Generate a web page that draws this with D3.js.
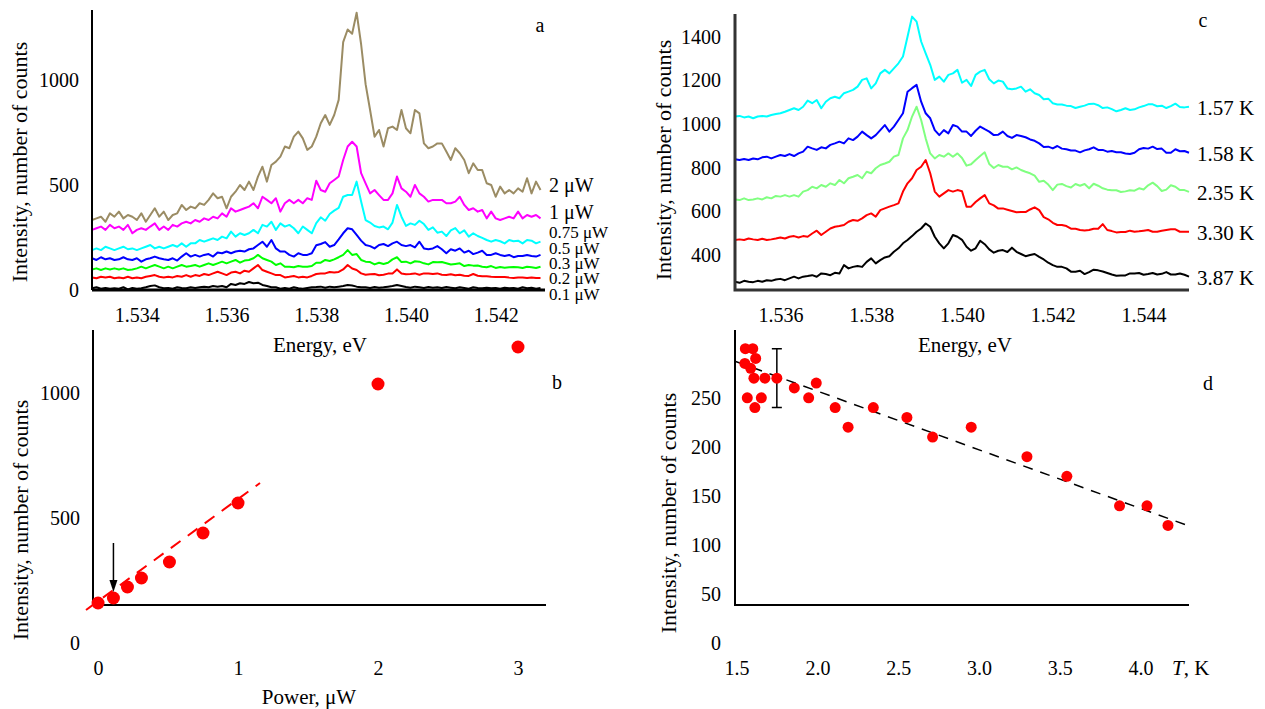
<!DOCTYPE html>
<html>
<head>
<meta charset="utf-8">
<script src="https://cdn.jsdelivr.net/npm/d3@7"></script>
<style>
  body { margin: 0; background: #fff; }
  svg { font-family: "Liberation Serif", "Times New Roman", serif; }
</style>
</head>
<body>
<div id="chart"></div>
<script>
// ---- panel a: spectra vs excitation power (energy grid 1.5330 eV, step 0.0001 eV)
const energyStartA = 1.5330, energyStepA = 0.0001;
const powerLabels = ["2 μW", "1 μW", "0.75 μW", "0.5 μW", "0.3 μW", "0.2 μW", "0.1 μW"];
const powerColors = ["#9b8c64", "#ff00ff", "#00ffff", "#0000ff", "#00ff00", "#ff0000", "#000000"];

const spec2uW = [333,341,349,325,365,349,373,341,357,349, 333,365,325,357,389,349,373,333,357,365,
  405,381,397,389,413,405,429,460,437,444, 389,444,468,500,476,516,476,540,587,516,
  595,611,635,683,675,730,754,722,667,683, 730,794,833,786,833,905,1180,1240,1220,1320,
  1170,980,857,730,762,683,770,778,762,857, 770,746,857,841,698,675,683,698,698,659,
  619,675,651,619,556,603,571,571,508,500, 444,492,460,476,460,484,468,532,460,516, 476];
const spec1uW = [286,294,302,286,310,294,302,286,310,270, 286,294,286,302,317,286,302,286,310,302,
  317,325,317,333,325,341,333,349,341,365, 349,389,373,381,389,397,413,389,444,429,
  413,437,373,413,429,413,429,413,437,429, 520,476,468,508,524,540,619,683,706,683,
  556,508,460,476,452,429,429,460,540,484, 468,444,500,460,444,421,429,429,429,413,
  413,421,444,405,381,389,373,381,341,373, 341,333,341,349,341,373,341,357,349,357, 341];
const spec075uW = [190,198,190,206,198,190,198,206,194,198, 190,198,206,214,198,206,198,206,214,206,
  222,206,222,222,238,230,238,246,238,254, 246,278,254,270,262,270,286,270,310,302,
  325,286,317,302,310,294,270,302,286,270, 318,346,330,362,378,391,444,452,452,516,
  421,333,321,305,298,302,289,321,405,349, 305,317,310,330,314,286,298,273,278,257,
  284,295,270,284,254,270,257,248,238,230, 238,232,222,238,232,235,222,238,235,222, 230];
const spec05uW = [151,143,156,146,151,143,146,156,146,143, 151,135,146,151,159,151,146,143,151,140,
  159,175,159,167,159,167,171,159,178,175, 183,175,183,187,183,194,198,214,230,206,
  238,198,183,183,167,159,175,167,167,175, 213,219,228,206,214,241,270,294,289,262,
  235,214,209,198,214,219,209,222,230,214, 209,214,203,230,198,194,198,209,194,175,
  194,187,198,178,187,171,178,187,167,167, 175,167,162,167,156,162,162,167,162,159, 167];
const spec03uW = [98,103,95,103,98,103,98,103,95,98, 103,111,103,111,119,111,103,111,103,111,
  119,111,114,119,111,119,127,119,127,135, 127,135,143,130,140,143,151,167,151,143,
  135,119,127,111,111,108,114,111,111,114, 130,130,143,138,146,156,167,190,167,171,
  143,135,133,122,130,124,130,146,156,133, 135,127,137,135,127,122,133,132,133,127,
  121,124,127,114,119,116,117,111,108,114, 105,109,106,108,109,108,105,111,108,105, 111];
const spec02uW = [60,56,63,59,63,56,60,56,63,56, 60,56,63,67,71,63,60,63,60,67,
  63,71,63,71,67,76,71,79,87,79, 71,83,87,79,92,87,103,119,95,87,
  79,71,71,60,63,67,60,63,60,67, 76,79,79,86,83,86,98,119,102,95,
  79,73,75,76,70,73,78,79,98,79, 75,76,79,73,79,79,76,79,73,71,
  75,70,73,68,67,76,68,65,65,63, 62,62,62,59,57,60,59,57,60,57, 57];
const spec01uW = [8,13,6,10,6,8,6,13,3,10, 6,8,13,19,22,13,8,10,6,13,
  10,8,13,10,13,16,13,19,16,19, 13,29,24,32,29,38,32,35,24,19,
  13,13,6,10,6,13,8,6,10,13, 14,16,11,16,13,16,19,24,21,16,
  13,13,10,14,11,13,16,19,24,19, 14,11,16,13,10,14,11,13,10,14,
  11,8,13,10,6,13,10,8,11,8, 10,6,11,8,10,6,13,8,11,6, 10];
const powerSpectra = [spec2uW, spec1uW, spec075uW, spec05uW, spec03uW, spec02uW, spec01uW];

// ---- panel b: integrated intensity vs power
const powerB = [0, 0.11, 0.21, 0.31, 0.51, 0.75, 1, 2, 3];
const intensityB = [160, 180, 224, 260, 324, 440, 560, 1036, 1184];
const fitPowerB = [-0.086, 1.157];
const fitIntensityB = [132, 640];
const arrowPowerB = 0.11, arrowFromB = 400, arrowToB = 204;

// ---- panel c: spectra vs temperature (energy grid 1.5350 eV, step 0.0001 eV)
const energyStartC = 1.5350, energyStepC = 0.0001;
const tempLabels = ["1.57 K", "1.58 K", "2.35 K", "3.30 K", "3.87 K"];
const tempColors = ["#00ffff", "#0000ff", "#80ff80", "#ff0000", "#000000"];

const spec157K = [1035,1038,1031,1035,1027,1035,1038,1035,1042,1047, 1050,1057,1065,1073,1065,1080,1108,1096,1111,1073,
  1103,1119,1126,1119,1142,1149,1157,1172,1203,1210, 1164,1187,1233,1249,1233,1256,1279,1310,1401,1493,
  1470,1379,1325,1272,1203,1218,1195,1226,1233,1249, 1190,1203,1175,1226,1241,1249,1206,1187,1200,1195,
  1164,1160,1164,1172,1149,1160,1142,1134,1114,1117, 1096,1090,1090,1085,1083,1074,1080,1085,1093,1094,
  1087,1074,1077,1069,1059,1065,1073,1065,1068,1077, 1083,1091,1091,1082,1085,1074,1083,1094,1079,1077, 1080];
const spec158K = [839,836,840,836,843,839,848,851,843,851, 859,854,863,854,866,874,897,889,882,894,
  889,905,912,920,912,935,927,943,966,950, 935,950,973,996,966,989,1019,1050,1149,1165,
  1180,1103,1050,1027,973,950,973,958,996,989, 966,966,946,970,989,977,966,950,952,966,
  946,937,950,946,940,930,924,912,895,897, 889,900,888,885,879,879,871,880,885,894,
  882,882,874,877,871,871,866,863,869,885, 891,888,897,886,888,869,869,885,876,877, 869];
const spec235K = [655,652,660,652,655,660,655,665,660,671, 668,675,668,675,668,691,698,713,706,721,
  713,729,721,744,729,752,759,767,752,782, 775,798,813,820,828,851,859,935,973,1035,
  1080,1019,935,866,843,859,851,866,851,866, 845,810,816,836,854,871,818,799,813,805,
  805,793,802,790,782,775,764,736,741,723, 698,723,726,716,710,726,718,726,706,727,
  718,706,700,697,697,689,692,697,695,706, 701,720,732,716,694,700,720,713,698,698, 690];
const spec330K = [469,472,469,476,472,469,475,469,472,476, 481,476,484,487,481,487,484,499,512,492,
  507,522,530,533,538,553,561,557,568,583, 591,576,606,614,622,629,637,691,729,752,
  790,805,836,775,691,668,683,698,691,698, 693,622,622,643,660,675,637,628,613,614,
  608,602,596,597,597,609,619,606,574,564, 548,538,538,533,521,521,515,513,515,521,
  521,542,515,510,504,506,506,512,507,509, 512,515,507,507,512,515,518,518,507,507, 507];
const spec387K = [278,273,282,278,276,282,278,285,282,288, 291,285,293,301,293,301,304,308,301,316,
  313,308,319,316,354,339,346,350,346,369, 385,362,377,389,395,415,431,454,469,487,
  507,522,545,530,484,454,431,454,492,484, 470,438,420,431,466,450,426,411,420,423,
  414,434,415,405,395,400,405,392,380,365, 354,346,346,339,324,324,328,313,322,333,
  330,325,318,311,305,307,307,316,316,318, 310,313,318,311,314,322,311,311,316,310, 301];
const tempSpectra = [spec157K, spec158K, spec235K, spec330K, spec387K];

// ---- panel d: integrated intensity vs temperature
const tempD = [1.554, 1.600, 1.551, 1.618, 1.587, 1.607, 1.675, 1.566, 1.653, 1.613, 1.749, 1.857, 1.946,
  1.993, 2.110, 2.190, 2.346, 2.554, 2.713, 2.952, 3.297, 3.544, 3.870, 4.040, 4.170];
const intensityD = [300, 300, 285, 290, 280, 270, 270, 250, 250, 240, 270, 260, 250,
  265, 240, 220, 240, 230, 210, 220, 190, 170, 140, 140, 120];
const fitTempD = [1.494, 4.307];
const fitIntensityD = [287, 119];
const errTempD = 1.749, errLowD = 240, errHighD = 300;

// ---- layout
const W = 1265, H = 709;
const FONT = "Liberation Serif";
const labelYA = [185, 212, 232, 248, 263, 278, 294];

const svg = d3.select("#chart").append("svg")
    .attr("width", W)
    .attr("height", H);

function leftLabels(scale, values, xRight, fmt) {
    svg.append("g")
        .attr("transform", `translate(${xRight},0)`)
        .call(d3.axisLeft(scale).tickValues(values).tickSize(0).tickPadding(0).tickFormat(fmt))
        .attr("font-family", FONT)
        .attr("font-size", 20)
        .call(g => g.select(".domain").remove());
}

function bottomLabels(scale, values, yMid, fmt) {
    svg.append("g")
        .attr("transform", `translate(0,${yMid})`)
        .call(d3.axisBottom(scale).tickValues(values).tickSize(0).tickPadding(0).tickFormat(fmt))
        .attr("font-family", FONT)
        .attr("font-size", 20)
        .call(g => g.select(".domain").remove())
        .call(g => g.selectAll("text").attr("y", 0).attr("dy", "0.35em"));
}

function frame(x, y, color, width) {
    const [x0, x1] = x.range();
    const [y0, y1] = y.range();
    svg.append("path")
        .attr("d", `M${x0},${y1}V${y0}H${x1}`)
        .attr("fill", "none")
        .attr("stroke", color)
        .attr("stroke-width", width);
}

function text(x, y, str, size, anchor = "start", rotate = false) {
    const t = svg.append("text")
        .attr("font-size", size)
        .attr("text-anchor", anchor)
        .attr("dominant-baseline", "central")
        .text(str);
    if (rotate) t.attr("transform", `translate(${x},${y}) rotate(-90)`);
    else t.attr("x", x).attr("y", y);
    return t;
}

// ---------- panel a
const xA = d3.scaleLinear().domain([1.533, 1.5431]).range([92, 545]);
const yA = d3.scaleLinear().domain([0, 1333]).range([290, 10]);
const lineA = d3.line()
    .x((d, i) => xA(energyStartA + i * energyStepA))
    .y(d => yA(d));

powerSpectra.forEach((s, k) => {
    svg.append("path")
        .datum(s)
        .attr("d", lineA)
        .attr("fill", "none")
        .attr("stroke", powerColors[k])
        .attr("stroke-width", 2)
        .attr("stroke-linejoin", "round");
});
svg.append("path").attr("d", `M92,10V290`).attr("stroke", "#000").attr("stroke-width", 2);
svg.append("path").attr("d", `M92,290H545`).attr("stroke", "#000").attr("stroke-width", 3);

leftLabels(yA, [0, 500, 1000], 79, d3.format("d"));
bottomLabels(xA, [1.534, 1.536, 1.538, 1.540, 1.542], 315, d3.format(".3f"));
// the small-power labels are packed tightly, as in the original figure
powerLabels.forEach((l, k) => text(549, labelYA[k], l, k < 2 ? 20 : 17));
text(19, 162, "Intensity, number of counts", 22, "middle", true);
text(320, 345, "Energy, eV", 21, "middle");
text(540, 25, "a", 20, "middle");

// ---------- panel b
const xB = d3.scaleLinear().domain([-0.036, 3.2]).range([93, 546]);
const yB = d3.scaleLinear().domain([152, 1252]).range([605, 330]);
frame(xB, yB, "#000", 2);

svg.append("path")
    .datum(fitPowerB.map((p, i) => [p, fitIntensityB[i]]))
    .attr("d", d3.line().x(d => xB(d[0])).y(d => yB(d[1])))
    .attr("stroke", "#ff0000")
    .attr("stroke-width", 2)
    .attr("stroke-dasharray", "12,9");

svg.selectAll(".dotB")
    .data(powerB)
    .enter()
    .append("circle")
    .attr("class", "dotB")
    .attr("cx", d => xB(d))
    .attr("cy", (d, i) => yB(intensityB[i]))
    .attr("r", 6.5)
    .attr("fill", "#ff0000");

// arrow pointing at the 0.1 uW point
const ax = xB(arrowPowerB), ayTip = yB(arrowToB);
svg.append("line")
    .attr("x1", ax).attr("x2", ax)
    .attr("y1", yB(arrowFromB)).attr("y2", ayTip - 6)
    .attr("stroke", "#000").attr("stroke-width", 1.5);
svg.append("path")
    .attr("d", `M${ax - 4},${ayTip - 12}L${ax + 4},${ayTip - 12}L${ax},${ayTip}Z`)
    .attr("fill", "#000");

leftLabels(yB, [0, 500, 1000], 80, d3.format("d"));
bottomLabels(xB, [0, 1, 2, 3], 668, d3.format("d"));
text(20, 520, "Intensity, number of counts", 22, "middle", true);
text(309, 697, "Power, μW", 21, "middle");
text(557, 382, "b", 20, "middle");

// ---------- panel c
const xC = d3.scaleLinear().domain([1.535, 1.545]).range([735, 1189]);
const yC = d3.scaleLinear().domain([240, 1505]).range([290, 14]);
const lineC = d3.line()
    .x((d, i) => xC(energyStartC + i * energyStepC))
    .y(d => yC(d));

tempSpectra.forEach((s, k) => {
    svg.append("path")
        .datum(s)
        .attr("d", lineC)
        .attr("fill", "none")
        .attr("stroke", tempColors[k])
        .attr("stroke-width", 2)
        .attr("stroke-linejoin", "round");
    text(1197, yC(s[s.length - 1]) + 1, tempLabels[k], 21);
});
frame(xC, yC, "#333", 3);

leftLabels(yC, [400, 600, 800, 1000, 1200, 1400], 721, d3.format("d"));
bottomLabels(xC, [1.536, 1.538, 1.540, 1.542, 1.544], 315, d3.format(".3f"));
text(663, 160, "Intensity, number of counts", 22, "middle", true);
text(965, 345, "Energy, eV", 21, "middle");
text(1203, 20, "c", 20, "middle");

// ---------- panel d
const xD = d3.scaleLinear().domain([1.49, 4.30]).range([735, 1189]);
const yD = d3.scaleLinear().domain([39, 319]).range([605, 330]);
frame(xD, yD, "#000", 2);

svg.append("path")
    .datum(fitTempD.map((t, i) => [t, fitIntensityD[i]]))
    .attr("d", d3.line().x(d => xD(d[0])).y(d => yD(d[1])))
    .attr("stroke", "#000")
    .attr("stroke-width", 1.5)
    .attr("stroke-dasharray", "10,8");

const ex = xD(errTempD);
svg.append("path")
    .attr("d", `M${ex},${yD(errLowD)}V${yD(errHighD)}M${ex - 5},${yD(errLowD)}H${ex + 5}M${ex - 5},${yD(errHighD)}H${ex + 5}`)
    .attr("stroke", "#000")
    .attr("stroke-width", 1.5);

svg.selectAll(".dotD")
    .data(tempD)
    .enter()
    .append("circle")
    .attr("class", "dotD")
    .attr("cx", d => xD(d))
    .attr("cy", (d, i) => yD(intensityD[i]))
    .attr("r", 5.5)
    .attr("fill", "#ff0000");

leftLabels(yD, [0, 50, 100, 150, 200, 250], 721, d3.format("d"));
bottomLabels(xD, [1.5, 2.0, 2.5, 3.0, 3.5, 4.0], 668, d3.format(".1f"));
text(668, 513, "Intensity, number of counts", 22, "middle", true);
const tk = text(1172, 668, "", 21);
tk.append("tspan").attr("font-style", "italic").text("T");
tk.append("tspan").text(", K");
text(1208, 383, "d", 20, "middle");
</script>
</body>
</html>
